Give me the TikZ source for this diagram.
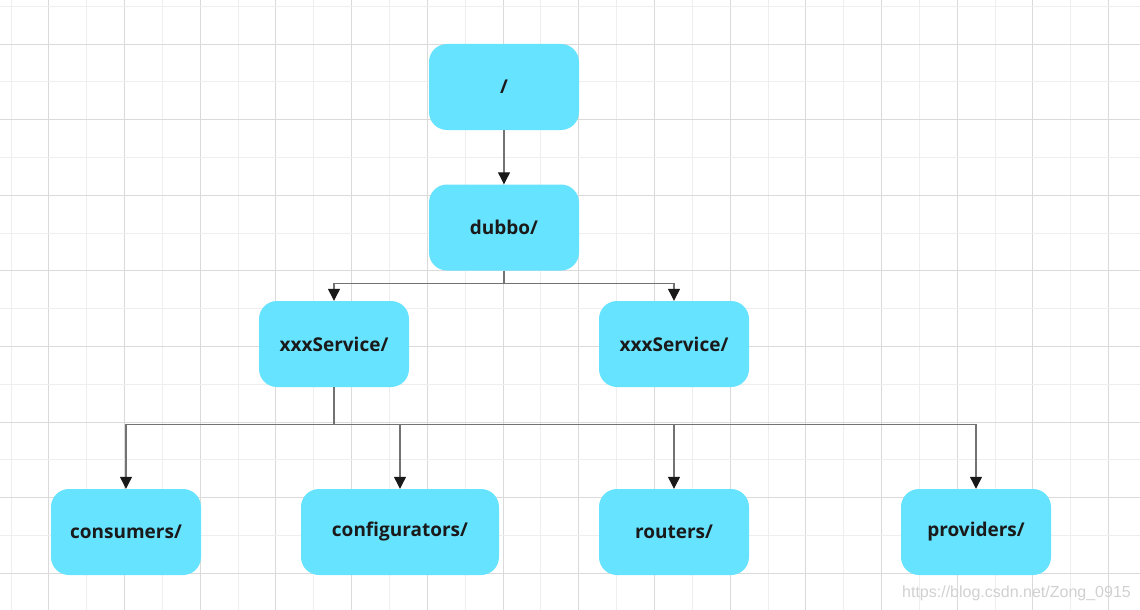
\documentclass[tikz,border=0pt]{standalone}
\usepackage{fontspec}
\setmainfont{Open Sans}
\newfontfamily\wmfont{Liberation Sans}
\usetikzlibrary{arrows.meta}
\definecolor{boxfill}{HTML}{66E3FF}
\definecolor{gridlight}{HTML}{EEEEEE}
\definecolor{griddark}{HTML}{DADADA}
\definecolor{txt}{HTML}{1A1A1A}
\begin{document}
\begin{tikzpicture}[x=1pt,y=-1pt,
  box/.style={rectangle, rounded corners=18pt, fill=boxfill, draw=none,
    minimum width=150pt, minimum height=86pt, inner sep=0pt,
    font=\fontsize{19}{22}\selectfont\bfseries, text=txt},
  conn/.style={draw=black!55, line width=1.2pt,
    -{Triangle[width=12pt,length=12pt,color=black!90]}},
]
\useasboundingbox (0,0) rectangle (1140,610);
\fill[white] (0,0) rectangle (1140,610);
% grid
\foreach \k in {0,...,30} {
  \pgfmathsetmacro{\xx}{11+37.85*\k}
  \ifodd\k
    \draw[griddark, line width=1pt] (\xx,0) -- (\xx,610);
  \else
    \draw[gridlight, line width=1pt] (\xx,0) -- (\xx,610);
  \fi
}
\foreach \k in {0,...,16} {
  \pgfmathsetmacro{\yy}{6.3+37.8*\k}
  \ifodd\k
    \draw[griddark, line width=1pt] (0,\yy) -- (1140,\yy);
  \else
    \draw[gridlight, line width=1pt] (0,\yy) -- (1140,\yy);
  \fi
}
% nodes
\node[box] (root) at (504,87) {/};
\node[box] (dubbo) at (504,227.5) {dubbo/};
\node[box] (xl) at (334,344) {xxxService/};
\node[box] (xr) at (674,344) {xxxService/};
\node[box] (cons) at (126,532) {consumers/};
\node[box, minimum width=198pt] (conf) at (400,532) {configurators/};
\node[box] (rout) at (674,532) {routers/};
\node[box] (prov) at (976,532) {providers/};
% connectors
\draw[conn] (root.south) -- (dubbo.north);
\draw[conn] (dubbo.south) -- ++(0,13) -| (xl.north);
\draw[conn] (dubbo.south) -- ++(0,13) -| (xr.north);
\draw[conn] (xl.south) -- ++(0,37) -| (cons.north);
\draw[conn] (xl.south) -- ++(0,37) -| (conf.north);
\draw[conn] (xl.south) -- ++(0,37) -| (rout.north);
\draw[conn] (xl.south) -- ++(0,37) -| (prov.north);
% watermark
\node[anchor=east, text=black!18, font=\wmfont\fontsize{16}{19}\selectfont, inner sep=0pt] (wm) at (1131,593) {https://blog.csdn.net/Zong\_0915};
\end{tikzpicture}
\end{document}
